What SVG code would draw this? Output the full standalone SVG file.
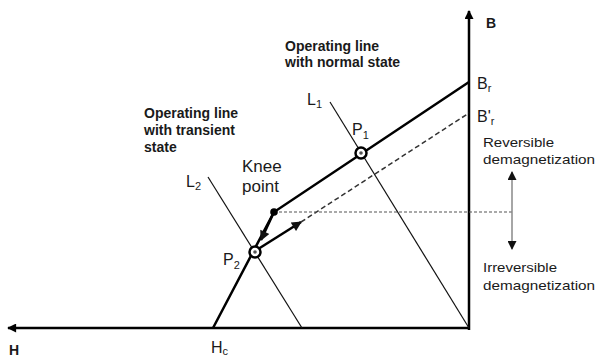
<svg xmlns="http://www.w3.org/2000/svg" width="595" height="358" viewBox="0 0 595 358">
<defs>
<marker id="ah" viewBox="0 0 10 10" refX="9" refY="5" markerWidth="10" markerHeight="9" markerUnits="userSpaceOnUse" orient="auto-start-reverse">
<path d="M0,0 L10,5 L0,10 z" fill="#000"/>
</marker>
<marker id="ahs" viewBox="0 0 10 10" refX="9" refY="5" markerWidth="12" markerHeight="10" markerUnits="userSpaceOnUse" orient="auto-start-reverse">
<path d="M0,0 L10,5 L0,10 z" fill="#111"/>
</marker>
<marker id="ahd" viewBox="0 0 10 10" refX="9" refY="5" markerWidth="10" markerHeight="9" markerUnits="userSpaceOnUse" orient="auto-start-reverse">
<path d="M0,0 L10,5 L0,10 z" fill="#111"/>
</marker>
</defs>
<style>
text{font-family:"Liberation Sans",Arial,sans-serif;fill:#1a1a1a}
.b{font-weight:bold;font-size:14px}
.r{font-size:13px}
.lbl{font-size:16px}
.sub{font-size:11px}
.axis{stroke:#000;stroke-width:2.5;fill:none}
.curve{stroke:#000;stroke-width:2.5;fill:none}
.load{stroke:#111;stroke-width:1.2;fill:none}
.dash{stroke:#333;stroke-width:1.5;stroke-dasharray:5 3;fill:none}
.dot{stroke:#555;stroke-width:1.2;stroke-dasharray:3 2;fill:none}
</style>
<rect width="595" height="358" fill="#fff"/>
<g id="connectors">
<line class="axis" x1="469" y1="330" x2="469" y2="11" marker-end="url(#ah)"/>
<line class="axis" x1="469" y1="328" x2="8" y2="328" marker-end="url(#ah)"/>
<line class="load" x1="330" y1="102" x2="469" y2="328"/>
<line class="load" x1="208" y1="177" x2="302" y2="328"/>
<path class="curve" d="M213,328 L274,212 L469,82"/>
<line class="curve" x1="274" y1="212" x2="261" y2="240" marker-end="url(#ahs)"/>
<line class="curve" x1="255" y1="251" x2="301" y2="222" marker-end="url(#ahs)"/>
<line class="dash" x1="301" y1="222" x2="469" y2="113"/>
<line class="dot" x1="274" y1="212" x2="512" y2="212"/>
<line x1="512" y1="172" x2="512" y2="249" stroke="#888" stroke-width="1.5" marker-start="url(#ahd)" marker-end="url(#ahd)"/>
</g>
<g id="P1"><circle cx="361" cy="153" r="5.5" fill="#fff" stroke="#000" stroke-width="2.5"/><circle cx="361" cy="153" r="1.8" fill="#555"/>
<text class="lbl" x="352" y="135">P<tspan class="sub" dy="4">1</tspan></text></g>
<g id="P2"><circle cx="255" cy="252" r="5.5" fill="#fff" stroke="#000" stroke-width="2.5"/><circle cx="255" cy="252" r="1.8" fill="#555"/>
<text class="lbl" x="223" y="265">P<tspan class="sub" dy="4">2</tspan></text></g>
<g id="knee"><circle cx="274" cy="212" r="3.8" fill="#000"/>
<text x="242" y="172" style="font-size:17px">Knee</text><text x="242" y="192" style="font-size:17px">point</text></g>
<g id="normal"><text class="b" x="285" y="51">Operating line</text><text class="b" x="285" y="67">with normal state</text></g>
<g id="transient"><text class="b" x="144" y="118">Operating line</text><text class="b" x="144" y="135">with transient</text><text class="b" x="144" y="152">state</text></g>
<g id="L1"><text class="lbl" x="307" y="105">L<tspan class="sub" dy="3">1</tspan></text></g>
<g id="L2"><text class="lbl" x="186" y="187">L<tspan class="sub" dy="3">2</tspan></text></g>
<g id="Br"><text class="lbl" x="477" y="89">B<tspan class="sub" dy="3">r</tspan></text></g>
<g id="Bpr"><text class="lbl" x="477" y="122">B'<tspan class="sub" dy="3">r</tspan></text></g>
<g id="Baxis"><text class="b" x="486" y="28">B</text></g>
<g id="Haxis"><text class="b" x="9" y="355">H</text></g>
<g id="Hc"><text class="lbl" x="211" y="353">H<tspan class="sub" dy="2">c</tspan></text></g>
<g id="rev"><text class="r" x="483" y="147" textLength="71" lengthAdjust="spacingAndGlyphs">Reversible</text><text class="r" x="483" y="164" textLength="112" lengthAdjust="spacingAndGlyphs">demagnetization</text></g>
<g id="irrev"><text class="r" x="483" y="272" textLength="74" lengthAdjust="spacingAndGlyphs">Irreversible</text><text class="r" x="483" y="290" textLength="112" lengthAdjust="spacingAndGlyphs">demagnetization</text></g>
</svg>
